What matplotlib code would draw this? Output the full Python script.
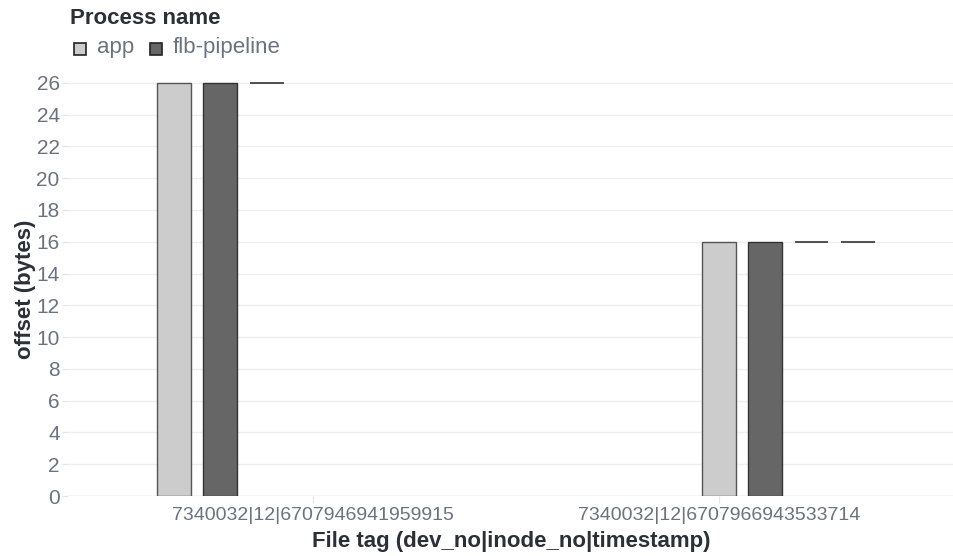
import matplotlib.pyplot as plt
from matplotlib.patches import Rectangle

plt.rcParams['font.family'] = ['Liberation Sans', 'DejaVu Sans']

file_tags = ["7340032|12|6707946941959915", "7340032|12|6707966943533714"]
series = ["app", "flb-pipeline"]
app_vals = [26, 16]
flb_vals = [26, 16]
# extra unnamed entries, drawn only as flat marks at their value
extra_vals = [[26], [16, 16]]

fill = {"app": "#cccccc", "flb-pipeline": "#666666"}
edge = {"app": "#555555", "flb-pipeline": "#333333"}
grey_txt = "#6b7280"
dark_txt = "#2b2f36"

fig = plt.figure(figsize=(9.54, 5.56), dpi=100)
ax = fig.add_axes([68 / 954, 1 - 496 / 556, 886 / 954, (496 - 82) / 556])

slot = 0.085
bw = 0.062
offsets = [-1.5 * slot, -0.5 * slot, 0.5 * slot, 1.5 * slot]
for i in range(len(file_tags)):
    ax.bar(i + offsets[0], app_vals[i], width=bw, color=fill["app"],
           edgecolor=edge["app"], linewidth=1, zorder=3)
    ax.bar(i + offsets[1], flb_vals[i], width=bw, color=fill["flb-pipeline"],
           edgecolor=edge["flb-pipeline"], linewidth=1, zorder=3)
    for j, v in enumerate(extra_vals[i]):
        x = i + offsets[2 + j]
        ax.hlines(v, x - bw / 2, x + bw / 2, color="#333333", linewidth=1.2, zorder=3)

ax.set_xlim(-0.322, 1.304)
ax.set_ylim(0, 26.05)
ax.set_yticks(range(0, 27, 2))
ax.set_xticks([i + offsets[3] if i == 0 else i + offsets[0] for i in range(len(file_tags))])
ax.set_xticklabels(file_tags)
ax.tick_params(axis="x", length=5, color="#e5e5e5", labelsize=14, labelcolor=grey_txt, pad=3)
ax.tick_params(axis="y", length=4, color="#e5e5e5", labelsize=15, labelcolor=grey_txt, pad=2)
ax.grid(axis="y", color="#eeeeee", linewidth=1, zorder=0)
for s in ax.spines.values():
    s.set_visible(False)
ax.axhline(0, color="#e5e5e5", linewidth=1, zorder=1)

ax.set_xlabel("File tag (dev_no|inode_no|timestamp)", fontsize=16,
              fontweight="bold", color=dark_txt, labelpad=5)
ax.set_ylabel("offset (bytes)", fontsize=16, fontweight="bold",
              color=dark_txt, labelpad=0)

# legend
fig.text(70 / 954, 1 - 19 / 556, "Process name", fontsize=16, fontweight="bold",
         color=dark_txt, va="center", ha="left")
lx = [74, 150]
for k, name in enumerate(series):
    fig.patches.append(Rectangle((lx[k] / 954, 1 - 55 / 556), 12 / 954, 12 / 556,
                                 transform=fig.transFigure, facecolor=fill[name],
                                 edgecolor="#222222", linewidth=1.2))
    fig.text((lx[k] + 23) / 954, 1 - 48 / 556, name, fontsize=16,
             color=grey_txt, va="center", ha="left")

fig.savefig("out.png", dpi=100)
